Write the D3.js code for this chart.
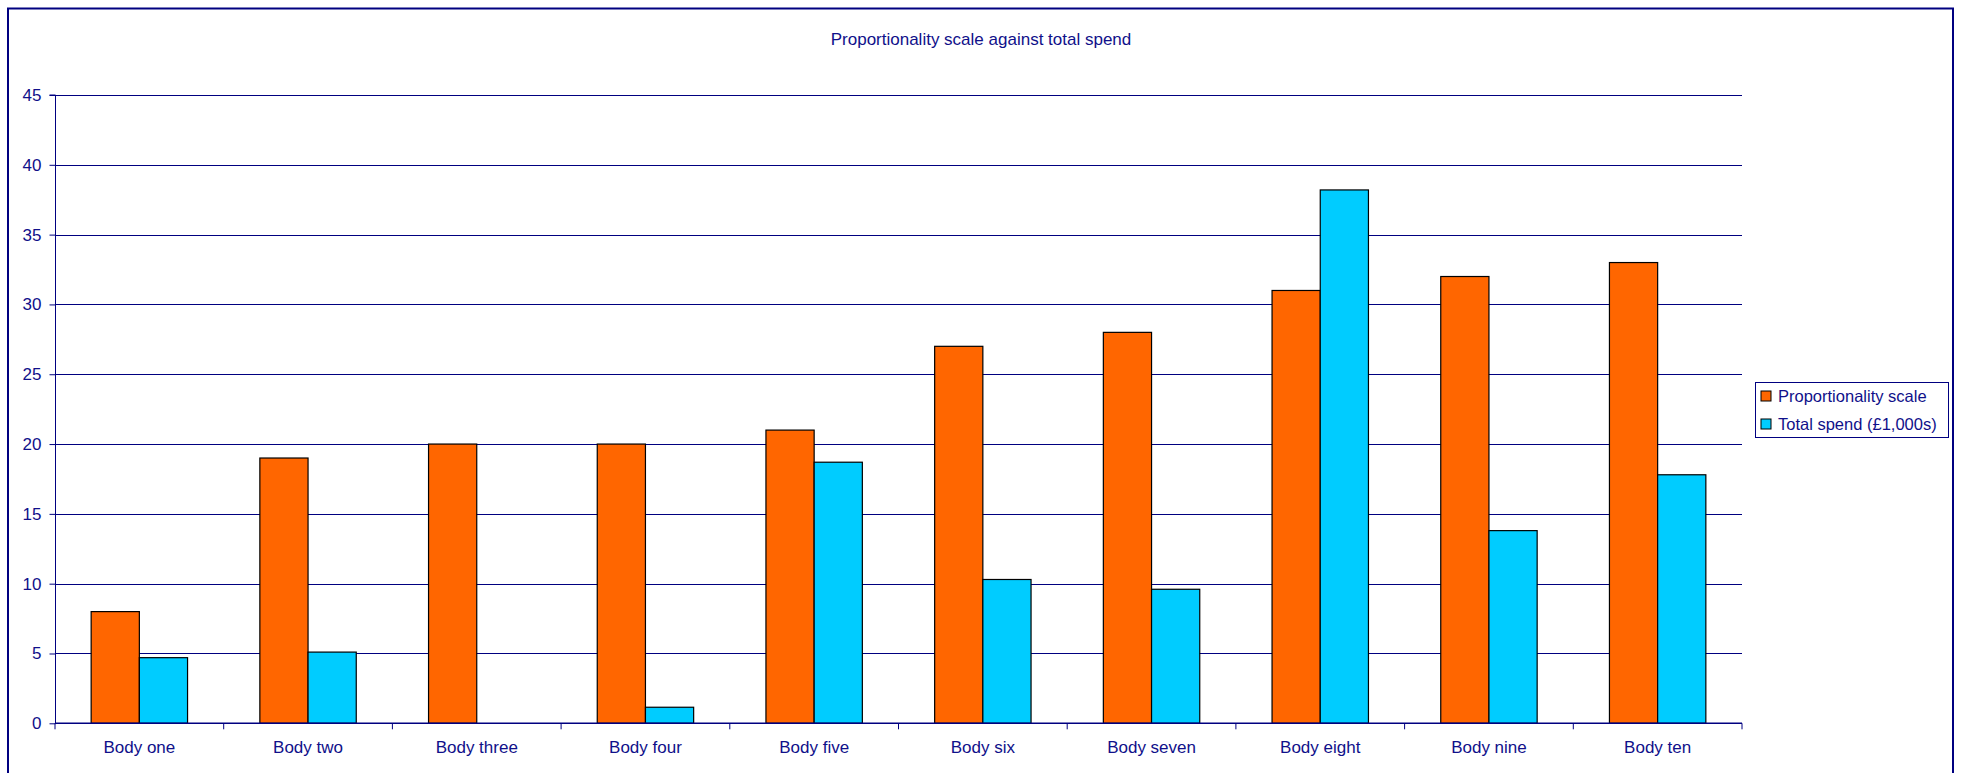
<!DOCTYPE html>
<html>
<head>
<meta charset="utf-8">
<script src="https://cdn.jsdelivr.net/npm/d3@7"></script>
<style>
  html, body { margin: 0; padding: 0; background: #ffffff; }
  svg { display: block; font-family: "Liberation Sans", Arial, sans-serif; }
</style>
</head>
<body>
<svg id="chart" width="1961" height="773"></svg>
<script>
const title = "Proportionality scale against total spend";
const categories = ["Body one", "Body two", "Body three", "Body four", "Body five", "Body six", "Body seven", "Body eight", "Body nine", "Body ten"];
const seriesNames = ["Proportionality scale", "Total spend (£1,000s)"];
const proportionality = [8, 19, 20, 20, 21, 27, 28, 31, 32, 33];
const totalSpend = [4.7, 5.1, null, 1.15, 18.7, 10.3, 9.6, 38.2, 13.8, 17.8];
const yTicks = [0, 5, 10, 15, 20, 25, 30, 35, 40, 45];
const colors = ["#FF6600", "#00CCFF"];

const navy = "#000080";
const textColor = "#10108a";
const svg = d3.select("#chart");

// Chart border
svg.append("rect")
  .attr("x", 8).attr("y", 8.5).attr("width", 1945).attr("height", 820)
  .attr("fill", "#ffffff").attr("stroke", navy).attr("stroke-width", 2);

const plot = { left: 55, right: 1742, top: 95, bottom: 723.3 };

const y = d3.scaleLinear().domain([0, 45]).range([plot.bottom, plot.top]);
const x = d3.scaleBand().domain(categories).range([plot.left, plot.right]).paddingInner(0).paddingOuter(0);
const groupW = x.bandwidth() / 1.75;
const xs = d3.scaleBand().domain(seriesNames).range([0, groupW]).padding(0);

// Title
svg.append("text")
  .attr("x", 981).attr("y", 45)
  .attr("text-anchor", "middle")
  .attr("fill", textColor)
  .style("font-size", "17px")
  .text(title);

// Gridlines
svg.append("g").selectAll("line").data(yTicks.filter(d => d > 0)).join("line")
  .attr("x1", plot.left).attr("x2", plot.right)
  .attr("y1", d => Math.round(y(d)) + 0.5).attr("y2", d => Math.round(y(d)) + 0.5)
  .attr("stroke", navy).attr("stroke-width", 1);

// Y axis
const yAxis = d3.axisLeft(y).tickValues(yTicks).tickSize(6).tickPadding(8).tickFormat(d3.format("d"));
const gy = svg.append("g").attr("transform", `translate(${plot.left + 0.5},0)`).call(yAxis);
gy.select(".domain").attr("stroke", navy).attr("d", `M-6,${plot.top}H0V${plot.bottom}`);
gy.selectAll(".tick line").attr("stroke", navy);
gy.selectAll(".tick text").attr("fill", textColor).style("font-size", "17px")
  .style("font-family", "'Liberation Sans', Arial, sans-serif");

// Bars
const data = categories.map((c, i) => ({ cat: c, vals: [proportionality[i], totalSpend[i]] }));
const groups = svg.append("g").selectAll("g").data(data).join("g")
  .attr("transform", d => `translate(${x(d.cat) + (x.bandwidth() - groupW) / 2},0)`);
groups.selectAll("rect")
  .data(d => d.vals.map((v, j) => ({ v, s: seriesNames[j], j })).filter(e => e.v !== null))
  .join("rect")
  .attr("x", d => xs(d.s))
  .attr("y", d => y(d.v))
  .attr("width", xs.bandwidth())
  .attr("height", d => y(0) - y(d.v))
  .attr("fill", d => colors[d.j])
  .attr("stroke", "#000000").attr("stroke-width", 1.2);

// X axis
const xAxis = d3.axisBottom(x).tickSize(0).tickPadding(18);
const gx = svg.append("g").attr("transform", `translate(0,${plot.bottom})`).call(xAxis);
gx.select(".domain").attr("stroke", navy).attr("stroke-width", 1.5).attr("d", `M${plot.left},0H${plot.right}`);
gx.selectAll(".tick text").attr("fill", textColor).style("font-size", "17px")
  .style("font-family", "'Liberation Sans', Arial, sans-serif");
// Category boundary ticks
const bounds = categories.map(c => x(c)).concat([plot.right]);
svg.append("g").selectAll("line").data(bounds).join("line")
  .attr("x1", d => d).attr("x2", d => d)
  .attr("y1", plot.bottom).attr("y2", plot.bottom + 6)
  .attr("stroke", navy).attr("stroke-width", 1);

// Legend
const lg = svg.append("g").attr("transform", "translate(1755,382)");
lg.append("rect").attr("x", 0.5).attr("y", 0.5).attr("width", 193).attr("height", 55)
  .attr("fill", "#ffffff").attr("stroke", navy).attr("stroke-width", 1);
const items = lg.selectAll("g.item").data(seriesNames).join("g")
  .attr("class", "item")
  .attr("transform", (d, i) => `translate(6,${9 + i * 28})`);
items.append("rect").attr("width", 10).attr("height", 10)
  .attr("fill", (d, i) => colors[i]).attr("stroke", "#000000").attr("stroke-width", 1);
items.append("text").attr("x", 17).attr("y", 10.5)
  .attr("fill", textColor).style("font-size", "16.5px").text(d => d);
</script>
</body>
</html>
